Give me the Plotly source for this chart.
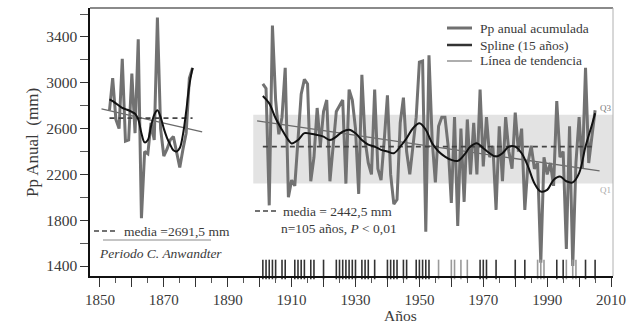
import plotly.graph_objects as go

# ---------------- data ----------------
early_years = list(range(1853, 1880))
early_pp = [2760, 3040, 2680, 2600, 3210, 2490, 2500, 3080, 2560, 3380,
            1818, 2400, 2380, 2650, 2500, 3570, 2600, 2360, 2420, 2500,
            2530, 2400, 2260, 2420, 2560, 3040, 3130]
early_spline = [2855, 2840, 2820, 2800, 2780, 2770, 2760, 2745, 2730, 2680,
                2560, 2480, 2500, 2620, 2720, 2760, 2700, 2600, 2520, 2460,
                2410, 2400, 2430, 2550, 2750, 2980, 3130]

late_years = list(range(1901, 2006))
late_pp = [2990, 2950, 1930, 3500, 2850, 2550, 2700, 3130, 2000, 2150,
           2100, 2500, 2900, 3030, 2990, 2140, 2350, 2780, 2450, 2750,
           2850, 2140, 2450, 2750, 2800, 2850, 2120, 2940, 2850, 2600,
           2030, 3070, 2500, 2300, 2200, 2940, 2250, 2150, 2500, 2890,
           2200, 1940, 1980, 2650, 2870, 2400, 2200, 2450, 2700, 3180,
           3190, 1700, 3240, 2500, 2130, 2620, 2700, 2700, 2450, 1950,
           2700, 1750, 2600, 1960, 2680, 2200, 2650, 2200, 2940, 2270,
           2700, 2350, 2450, 1890, 2620, 2140, 2700, 2400, 2250, 2740,
           2400, 2600, 1890, 2300, 2450, 2250, 2300, 1430, 2350, 2200,
           2300, 2100, 2840, 2350, 2400, 1550, 2620, 1400, 2300, 2700,
           2250, 3130, 2300, 2530, 2760]
spline_years = [1901, 1903, 1905, 1907, 1909, 1910, 1912, 1914, 1916, 1918,
                1920, 1922, 1924, 1926, 1928, 1930, 1932, 1934, 1936, 1938,
                1940, 1942, 1944, 1946, 1948, 1950, 1952, 1954, 1956, 1958,
                1960, 1962, 1964, 1966, 1968, 1970, 1972, 1974, 1976, 1978,
                1980, 1982, 1984, 1986, 1988, 1990, 1992, 1994, 1996, 1998,
                2000, 2002, 2004, 2005]
late_spline = [2885, 2820, 2690, 2590, 2500, 2470, 2500, 2560, 2555, 2545,
               2530, 2500, 2530, 2574, 2590, 2560, 2500, 2460, 2443, 2414,
               2400, 2385, 2443, 2516, 2603, 2647, 2590, 2472, 2400, 2356,
               2327, 2318, 2370, 2443, 2472, 2429, 2385, 2356, 2385, 2443,
               2443, 2385, 2270, 2123, 2050, 2065, 2152, 2182, 2140, 2130,
               2211, 2443, 2632, 2734]

early_trend_years = [1850.5, 1882]
early_trend_vals = [2772, 2571]
late_trend_years = [1899.2, 2006.4]
late_trend_vals = [2667, 2231]

early_mean = 2691.5
late_mean = 2442.5
q1, q3 = 2120, 2720
band_start = 1898

rug_dark = [1901, 1902, 1903, 1904, 1905, 1907, 1908, 1911, 1912, 1913,
            1914, 1916, 1917, 1920, 1924, 1925, 1926, 1927, 1928, 1929,
            1930, 1932, 1933, 1934, 1936, 1940, 1941, 1942, 1943, 1945,
            1946, 1949, 1950, 1951, 1952, 1953, 1969, 1970, 1971, 1974,
            1980, 1983, 1993, 1995, 2002, 2005]
rug_light = [1956, 1960, 1961, 1963, 1965, 1987, 1988, 1989, 1996, 1998, 1999]

x_range = [1846.9, 2010.6]
y_range = [1313, 3653]

# ---------------- layout helpers ----------------
L, R, T, B = 90, 24, 8, 48
W, H = 637, 324
PW, PH = W - L - R, H - T - B


def px(x):
    return (x - L) / PW


def py(y):
    return (H - B - y) / PH


FONT = "Liberation Serif, Times New Roman, serif"
TXT = "#3a3a3a"

fig = go.Figure()

# trend lines
fig.add_trace(go.Scatter(x=early_trend_years, y=early_trend_vals, mode="lines",
                         line=dict(color="#6a6a6a", width=1.3), showlegend=False))
fig.add_trace(go.Scatter(x=late_trend_years, y=late_trend_vals, mode="lines",
                         line=dict(color="#6a6a6a", width=1.3), showlegend=False))
# annual series
fig.add_trace(go.Scatter(x=early_years, y=early_pp, mode="lines",
                         line=dict(color="#727272", width=3), showlegend=False))
fig.add_trace(go.Scatter(x=late_years, y=late_pp, mode="lines",
                         line=dict(color="#727272", width=3), showlegend=False))
# means
fig.add_trace(go.Scatter(x=[early_years[0], early_years[-1]], y=[early_mean, early_mean],
                         mode="lines", line=dict(color="#444", width=1.6, dash="5px,4px"),
                         showlegend=False))
fig.add_trace(go.Scatter(x=[late_years[0], late_years[-1]], y=[late_mean, late_mean],
                         mode="lines", line=dict(color="#444", width=1.6, dash="5px,4px"),
                         showlegend=False))
# splines
fig.add_trace(go.Scatter(x=early_years, y=early_spline, mode="lines",
                         line=dict(color="#111", width=2, shape="spline"), showlegend=False))
fig.add_trace(go.Scatter(x=spline_years, y=late_spline, mode="lines",
                         line=dict(color="#111", width=2, shape="spline"), showlegend=False))
# rug
rug_y = 1370
fig.add_trace(go.Scatter(x=rug_light, y=[rug_y] * len(rug_light), mode="markers",
                         marker=dict(symbol="line-ns-open", size=14, color="#9a9a9a",
                                     line=dict(color="#9a9a9a", width=1.6)),
                         cliponaxis=False, showlegend=False))
fig.add_trace(go.Scatter(x=rug_dark, y=[rug_y] * len(rug_dark), mode="markers",
                         marker=dict(symbol="line-ns-open", size=14, color="#333",
                                     line=dict(color="#333", width=1.6)),
                         cliponaxis=False, showlegend=False))

shapes = [
    dict(type="rect", xref="x", yref="y", x0=band_start, x1=x_range[1], y0=q1, y1=q3,
         fillcolor="#e3e3e3", line=dict(width=0), layer="below"),
    # frame top & right
    dict(type="line", xref="paper", yref="paper", x0=0, x1=1, y0=1, y1=1,
         line=dict(color="#8a8a8a", width=2.2)),
    dict(type="line", xref="paper", yref="paper", x0=1, x1=1, y0=0, y1=1,
         line=dict(color="#b0b0b0", width=1)),
    # annotation dashes
    dict(type="line", xref="paper", yref="paper", x0=px(94), x1=px(116), y0=py(231), y1=py(231),
         line=dict(color="#444", width=1.4, dash="5px,3px")),
    dict(type="line", xref="paper", yref="paper", x0=px(103), x1=px(211), y0=py(240), y1=py(240),
         line=dict(color="#8a8a8a", width=1)),
    dict(type="line", xref="paper", yref="paper", x0=px(255), x1=px(277), y0=py(211), y1=py(211),
         line=dict(color="#444", width=1.4, dash="5px,3px")),
    # legend samples
    dict(type="line", xref="paper", yref="paper", x0=px(447), x1=px(472), y0=py(28), y1=py(28),
         line=dict(color="#707070", width=3)),
    dict(type="line", xref="paper", yref="paper", x0=px(447), x1=px(472), y0=py(45), y1=py(45),
         line=dict(color="#333", width=2.5)),
    dict(type="line", xref="paper", yref="paper", x0=px(447), x1=px(472), y0=py(61), y1=py(61),
         line=dict(color="#777", width=1.2)),
]

annotations = [
    dict(text="media =2691,5 mm", x=px(122), y=py(231), xanchor="left", yanchor="middle"),
    dict(text="<i>Periodo C. Anwandter</i>", x=px(160), y=py(253), xanchor="center", yanchor="middle"),
    dict(text="media = 2442,5 mm", x=px(281), y=py(211), xanchor="left", yanchor="middle"),
    dict(text="n=105 años, <i>P</i> < 0,01", x=px(279), y=py(228), xanchor="left", yanchor="middle"),
    dict(text="Pp anual acumulada", x=px(478), y=py(28), xanchor="left", yanchor="middle"),
    dict(text="Spline (15 años)", x=px(478), y=py(45), xanchor="left", yanchor="middle"),
    dict(text="Línea de tendencia", x=px(478), y=py(61), xanchor="left", yanchor="middle"),
]
for a in annotations:
    a.update(xref="paper", yref="paper", showarrow=False, font=dict(family=FONT, size=13.5, color=TXT))

annotations += [
    dict(text="Q3", xref="x", yref="y", x=2006, y=q3, xanchor="left", yanchor="middle", yshift=7,
         showarrow=False, font=dict(family=FONT, size=9, color="#777")),
    dict(text="Q1", xref="x", yref="y", x=2006, y=q1, xanchor="left", yanchor="middle", yshift=-6,
         showarrow=False, font=dict(family=FONT, size=9, color="#aaa")),
    dict(text="Pp Anual  (mm)", xref="paper", yref="paper", x=px(32), y=py(143), textangle=-90,
         xanchor="center", yanchor="middle", showarrow=False,
         font=dict(family=FONT, size=17, color=TXT)),
    dict(text="Años", xref="paper", yref="paper", x=px(400), y=py(315),
         xanchor="center", yanchor="middle", showarrow=False,
         font=dict(family=FONT, size=15.5, color=TXT)),
]

xt = list(range(1850, 2011, 10))
yt = list(range(1400, 3401, 400))

fig.update_layout(
    width=W, height=H, margin=dict(l=L, r=R, t=T, b=B),
    paper_bgcolor="white", plot_bgcolor="white",
    shapes=shapes, annotations=annotations, showlegend=False,
    xaxis=dict(range=x_range, showgrid=False, zeroline=False, showline=True,
               linecolor="#111", linewidth=1.5, ticks="outside", ticklen=9,
               tickwidth=1.2, tickcolor="#333",
               tickvals=xt, ticktext=[str(v) if (v - 1850) % 20 == 0 else "" for v in xt],
               tickfont=dict(family=FONT, size=15, color=TXT),
               minor=dict(dtick=5, tick0=1850, ticks="outside", ticklen=5, tickwidth=1,
                          tickcolor="#555", showgrid=False)),
    yaxis=dict(range=y_range, showgrid=False, zeroline=False, showline=True,
               linecolor="#111", linewidth=1.5, ticks="outside", ticklen=8,
               tickwidth=1.2, tickcolor="#333", tickvals=yt,
               tickfont=dict(family=FONT, size=15.5, color=TXT),
               minor=dict(dtick=200, tick0=1400, ticks="outside", ticklen=8, tickwidth=1,
                          tickcolor="#555", showgrid=False)),
)

fig.write_html("out.html", config={"displayModeBar": False},
               post_script="document.body.style.margin='0';document.body.style.overflow='hidden';")
